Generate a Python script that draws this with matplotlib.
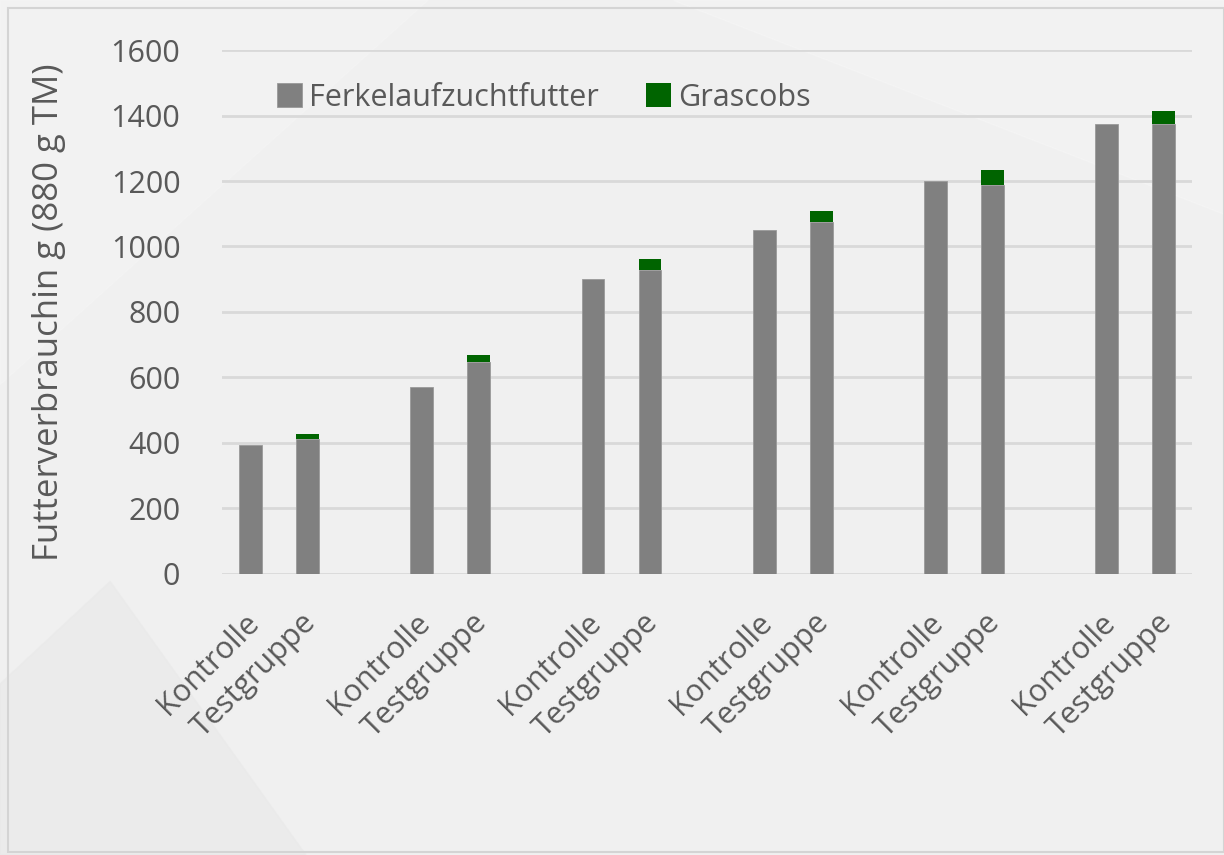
import matplotlib
matplotlib.use("Agg")
from matplotlib import pyplot as plt
from matplotlib.patches import Rectangle, Polygon
import matplotlib.transforms as mtrans
import numpy as np

plt.rcParams['font.family'] = ['Open Sans', 'DejaVu Sans']

groups = ["Kontrolle", "Testgruppe"]
n_blocks = 6
labels = groups * n_blocks
ferkel = [393, 412, 570, 646, 900, 929, 1050, 1075, 1200, 1188, 1375, 1375]
grascobs = [0, 16, 0, 23, 0, 34, 0, 33, 0, 45, 0, 40]
y_ticks = [0, 200, 400, 600, 800, 1000, 1200, 1400, 1600]

text_col = "#595959"
gray = "#808080"
green = "#006400"

fig = plt.figure(figsize=(12.24, 8.55), dpi=100, facecolor="#f0f0f0")

# faint background shapes
fig.patches.append(Polygon([(0, 1), (0.35, 1), (0.0, 0.55)], closed=True,
                           transform=fig.transFigure, color="white", alpha=0.15, zorder=-5))
fig.patches.append(Polygon([(0, 0.2), (0.09, 0.32), (0.25, 0), (0, 0)], closed=True,
                           transform=fig.transFigure, color="#e8e8e8", alpha=0.5, zorder=-5))
fig.patches.append(Polygon([(0.55, 1), (1, 1), (1, 0.75)], closed=True,
                           transform=fig.transFigure, color="white", alpha=0.2, zorder=-5))
fig.patches.append(Rectangle((8 / 1224, 3 / 855), 1 - 8 / 1224, 1 - 11 / 855,
                             transform=fig.transFigure, fill=False,
                             edgecolor="#d4d4d4", lw=1.5, zorder=-4))

ax = fig.add_axes([0.1814, 0.3287, 0.9739 - 0.1814, 0.9415 - 0.3287])
ax.set_facecolor("none")

x = np.array([b * 3 + i for b in range(n_blocks) for i in range(2)])
ax.bar(x, ferkel, width=0.4, color=gray, edgecolor="#9a9a9a", lw=0.6,
       label="Ferkelaufzuchtfutter", zorder=3)
ax.bar(x, grascobs, width=0.4, bottom=ferkel, color=green, lw=0,
       label="Grascobs", zorder=3)

ax.set_xlim(-0.5, 16.5)
ax.set_ylim(0, 1600)
ax.set_yticks(y_ticks)
ax.set_yticklabels([str(v) for v in y_ticks])
ax.yaxis.grid(True, color="#d9d9d9", lw=2, zorder=0)
ax.tick_params(axis="y", length=0, pad=30, labelsize=22, labelcolor=text_col)
ax.tick_params(axis="x", length=0, pad=24, labelsize=22, labelcolor=text_col)
ax.set_xticks(x)
ax.set_xticklabels(labels, rotation=45, ha="right", va="top", rotation_mode="anchor")
shift = mtrans.ScaledTranslation(-7 / 100, 0, fig.dpi_scale_trans)
for lbl in ax.get_xticklabels():
    lbl.set_transform(lbl.get_transform() + shift)
for s in ax.spines.values():
    s.set_visible(False)

ax.set_ylabel("Futterverbrauchin g (880 g TM)", fontsize=25, color=text_col, labelpad=32)

leg = ax.legend(loc="upper center", bbox_to_anchor=(0.332, 0.99), ncol=2, frameon=False,
                fontsize=22, handlelength=0.8, handleheight=0.8, handletextpad=0.25,
                columnspacing=1.55, labelcolor=text_col)

fig.savefig("out.png", dpi=100, facecolor=fig.get_facecolor())
